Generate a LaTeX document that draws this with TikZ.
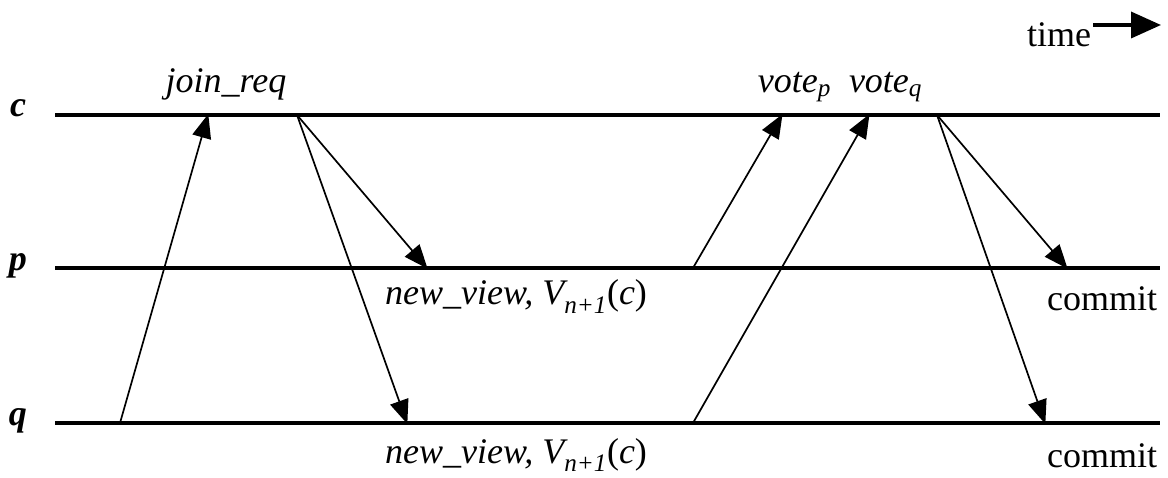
\documentclass[tikz,border=0pt]{standalone}
\usepackage{fontspec}
\setmainfont{Liberation Serif}
\usetikzlibrary{arrows.meta}
\begin{document}
\begin{tikzpicture}[x=1pt,y=-1pt,
  every node/.style={inner sep=0pt, outer sep=0pt, font=\fontsize{36}{40}\selectfont},
  procline/.style={line width=3.6pt},
  msg/.style={line width=1.7pt, -{Triangle[length=24pt,width=19pt]}, shorten >=-1pt},
  lbl/.style={anchor=base},
  proc/.style={anchor=base, font=\fontsize{36}{40}\selectfont\bfseries\itshape}]
\useasboundingbox (0,0) rectangle (1168,478);
% process lines
\coordinate (cL) at (55,115);  \coordinate (cR) at (1160,115);
\coordinate (pL) at (55,268);  \coordinate (pR) at (1160,268);
\coordinate (qL) at (55,423);  \coordinate (qR) at (1160,423);
\draw[procline] (cL) -- (cR);
\draw[procline] (pL) -- (pR);
\draw[procline] (qL) -- (qR);
\node[proc] (lc) at (18,117) {c};
\node[proc] (lp) at (18,271) {p};
\node[proc] (lq) at (18,425) {q};
% events
\coordinate (q1) at (120,423);
\coordinate (c1) at (208,115);
\coordinate (c2) at (297,115);
\coordinate (p2) at (427,268);
\coordinate (q2) at (407,423);
\coordinate (p3) at (693,268);
\coordinate (c3) at (782,115);
\coordinate (q3) at (693,423);
\coordinate (c4) at (869,115);
\coordinate (c5) at (937,115);
\coordinate (p5) at (1067,268);
\coordinate (q5) at (1045,423);
\draw[msg] (q1) -- (c1);
\draw[msg] (c2) -- (p2);
\draw[msg] (c2) -- (q2);
\draw[msg] (p3) -- (c3);
\draw[msg] (q3) -- (c4);
\draw[msg] (c5) -- (p5);
\draw[msg] (c5) -- (q5);
% labels
\node[lbl] (join) at (226,93) {\itshape join\_req};
\node[lbl] (votes) at (840,93) {\itshape vote\textsubscript{p}\ \ vote\textsubscript{q}};
\node[lbl] (nv1) at (516,305) {\itshape new\_view, V\textsubscript{n+1}\upshape(\itshape c\upshape)};
\node[lbl] (nv2) at (516,463) {\itshape new\_view, V\textsubscript{n+1}\upshape(\itshape c\upshape)};
\node[lbl] (cm1) at (1102,311) {commit};
\node[lbl] (cm2) at (1102,467) {commit};
% time arrow
\node[lbl] (time) at (1059,47) {time};
\coordinate (tE) at (1161,25);
\draw[line width=3.6pt, -{Triangle[length=30pt,width=26pt]}] (time.east |- tE) ++(2,0) -- (tE);
\end{tikzpicture}
\end{document}
